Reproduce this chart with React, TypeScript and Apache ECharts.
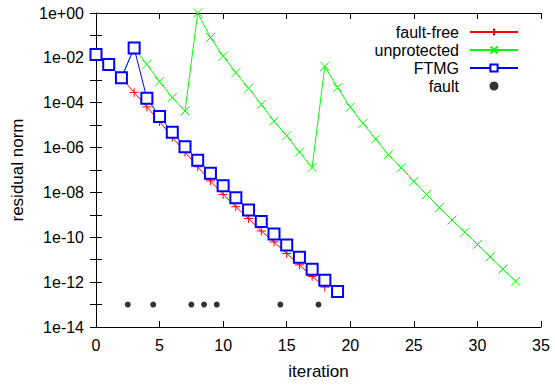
import React, { useEffect, useRef } from "react";
import * as echarts from "echarts";

const iterations = Array.from({ length: 34 }, (_, i) => i);

const faultFree = [
  1.4e-2, 5.1e-3, 1.3e-3, 2.9e-4, 6.5e-5, 1.45e-5, 2.9e-6, 6.3e-7, 1.4e-7, 3.3e-8,
  8.1e-9, 2.3e-9, 6.9e-10, 1.9e-10, 6.2e-11, 1.9e-11, 5.9e-12, 1.8e-12, 6.0e-13,
];

const unprotected = [
  1.4e-2, 5.1e-3, 1.3e-3, 2.75e-2, 5.1e-3, 8.7e-4, 1.7e-4, 4.3e-5, 1.0, 8.1e-2,
  1.2e-2, 2.2e-3, 4.4e-4, 8.3e-5, 1.5e-5, 3.4e-6, 6.3e-7, 1.3e-7, 4.2e-3, 4.7e-4,
  6.3e-5, 1.2e-5, 2.4e-6, 4.8e-7, 1.26e-7, 3.1e-8, 8.1e-9, 2.1e-9, 5.9e-10, 1.7e-10,
  4.8e-11, 1.35e-11, 3.8e-12, 1.1e-12,
];

const ftmg = [
  1.4e-2, 5.1e-3, 1.3e-3, 2.75e-2, 1.6e-4, 2.4e-5, 4.8e-6, 1.1e-6, 2.75e-7, 7.1e-8,
  2.0e-8, 5.8e-9, 1.66e-9, 5.0e-10, 1.4e-10, 4.5e-11, 1.3e-11, 3.8e-12, 1.2e-12, 3.8e-13,
];

const faultX = [2.5, 4.5, 7.5, 8.5, 9.5, 14.5, 17.5];
const faultY = 1e-13;

const FONT = "'Liberation Sans', Arial, Helvetica, sans-serif";

const plusPath = "path://M0,5 L10,5 M5,0 L5,10";
const crossPath = "path://M0,0 L10,10 M10,0 L0,10";

function fmtLog(v: number): string {
  const e = Math.round(Math.log10(v));
  if (e % 2 !== 0) return "";
  if (e >= 0) return "1e+" + String(e).padStart(2, "0");
  return "1e-" + String(-e).padStart(2, "0");
}

export default function App() {
  const ref = useRef<HTMLDivElement>(null);
  useEffect(() => {
    if (!ref.current) return;
    const chart = echarts.init(ref.current, undefined, { renderer: "svg" });
    const axisLine = { show: true, lineStyle: { color: "#000", width: 1 } };
    const tick = { show: true, inside: true, length: 6, lineStyle: { color: "#000" } };
    const yBase = {
      type: "log" as const,
      logBase: 10,
      min: 1e-14,
      max: 1,
      interval: 1,
      axisLine,
      axisTick: tick,
      splitLine: { show: false },
    };
    const xBase = {
      type: "value" as const,
      min: 0,
      max: 35,
      interval: 5,
      axisLine,
      axisTick: tick,
      splitLine: { show: false },
    };
    chart.setOption({
      animation: false,
      backgroundColor: "#fff",
      textStyle: { fontFamily: FONT },
      grid: { left: 96, right: 14, top: 13, bottom: 52, containLabel: false },
      legend: {
        orient: "vertical",
        right: 36,
        top: 24,
        padding: 0,
        align: "right",
        itemWidth: 48,
        itemHeight: 9,
        itemGap: 2,
        textStyle: { fontSize: 16, lineHeight: 16, color: "#000", fontFamily: FONT, padding: [0, 6, 0, 0] },
        data: ["fault-free", "unprotected", "FTMG", "fault"],
      },
      xAxis: [
        {
          ...xBase,
          position: "bottom",
          name: "iteration",
          nameLocation: "middle",
          nameGap: 36,
          nameTextStyle: { fontSize: 17, color: "#000", fontFamily: FONT },
          axisLabel: { fontSize: 16, color: "#000", margin: 10, fontFamily: FONT },
        },
        {
          ...xBase,
          position: "top",
          axisLabel: { show: false },
        },
      ],
      yAxis: [
        {
          ...yBase,
          position: "left",
          name: "residual norm",
          nameLocation: "middle",
          nameGap: 70,
          nameTextStyle: { fontSize: 17, color: "#000", fontFamily: FONT },
          axisLabel: { fontSize: 16, color: "#000", margin: 12, fontFamily: FONT, formatter: fmtLog },
        },
        {
          ...yBase,
          position: "right",
          axisLabel: { show: false },
        },
      ],
      series: [
        {
          name: "fault-free",
          type: "line",
          data: faultFree.map((v, i) => [iterations[i], v]),
          symbol: plusPath,
          symbolSize: 9,
          lineStyle: { color: "#ff0000", width: 1 },
          itemStyle: { color: "#ff0000", borderColor: "#ff0000", borderWidth: 1 },
          z: 2,
        },
        {
          name: "unprotected",
          type: "line",
          data: unprotected.map((v, i) => [iterations[i], v]),
          symbol: crossPath,
          symbolSize: 9,
          lineStyle: { color: "#00ff00", width: 1 },
          itemStyle: { color: "#00ff00", borderColor: "#00ff00", borderWidth: 1 },
          z: 3,
        },
        {
          name: "FTMG",
          type: "line",
          data: ftmg.map((v, i) => [iterations[i], v]),
          symbol: "emptyRect",
          symbolSize: 11,
          lineStyle: { color: "#0000ff", width: 1 },
          itemStyle: { color: "#0000ff", borderColor: "#0000ff", borderWidth: 1 },
          z: 4,
        },
        {
          name: "fault",
          type: "scatter",
          data: faultX.map((x) => [x, faultY]),
          symbol: "circle",
          symbolSize: 6,
          itemStyle: { color: "#000" },
          z: 5,
        },
      ],
    });
    return () => chart.dispose();
  }, []);
  return <div ref={ref} style={{ width: 555, height: 385, position: "absolute", left: 0, top: 0 }} />;
}
